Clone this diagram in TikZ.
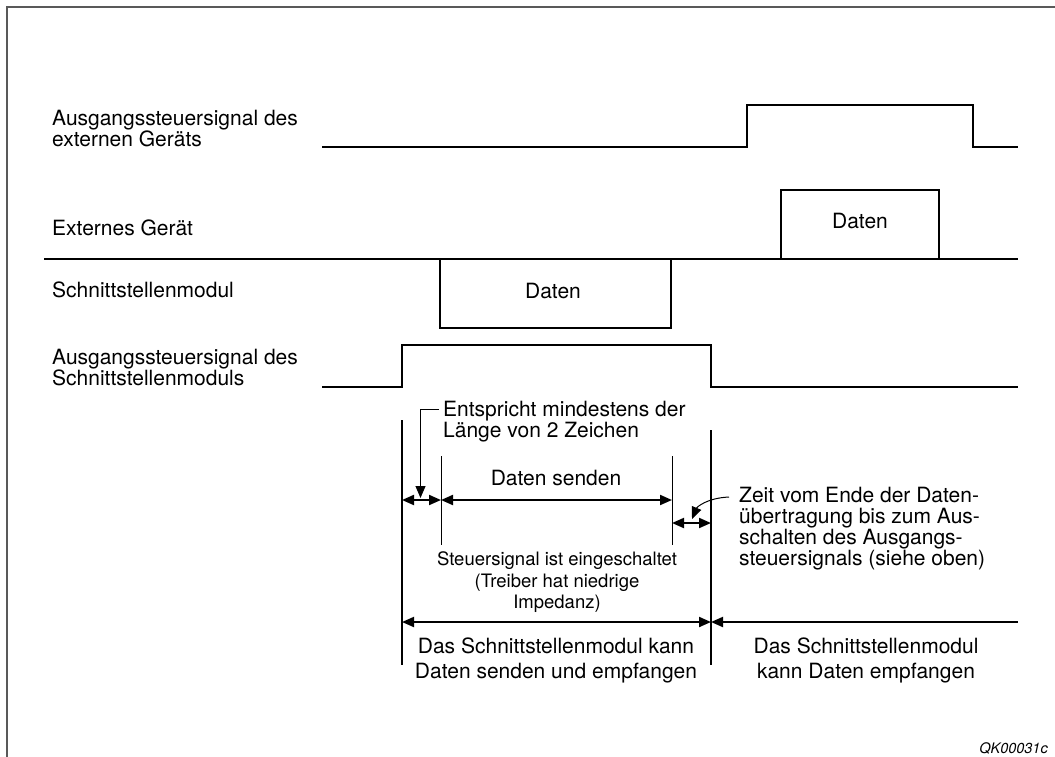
\documentclass[tikz,border=0pt]{standalone}
\usepackage{fontspec}
\setmainfont{TeX Gyre Heros}
\usetikzlibrary{arrows.meta}
\begin{document}
\begin{tikzpicture}[x=1pt,y=-1pt,
  sig/.style={line width=2pt, line join=miter},
  thinv/.style={line width=1pt},
  thickv/.style={line width=2pt},
  tip/.tip={Triangle[length=12pt,width=10pt]},
  dim/.style={line width=2pt, tip-tip},
  dimleft/.style={line width=2pt, tip-},
  lead/.style={line width=1pt, -tip},
  lbl/.style={inner sep=0pt, font=\fontsize{21}{21}\selectfont, align=left},
  clbl/.style={inner sep=0pt, font=\fontsize{21}{21}\selectfont, align=center},
  small/.style={inner sep=0pt, font=\fontsize{18.5}{21.5}\selectfont, align=center},
  big/.style={inner sep=0pt, font=\fontsize{21}{25}\selectfont, align=center},
]
\useasboundingbox (0,0) rectangle (1055,756);
% frame
\draw[line width=1.5pt, black!65] (7,760) -- (7,7) -- (1060,7);

% labels
\node[lbl, anchor=north west] (l1) at (52,110.4) {Ausgangssteuersignal des\\externen Geräts};
\node[lbl, anchor=base west] (l2) at (52,235.7) {Externes Gerät};
\node[lbl, anchor=base west] (l3) at (52,297.7) {Schnittstellenmodul};
\node[lbl, anchor=north west] (l4) at (52,349) {Ausgangssteuersignal des\\Schnittstellenmoduls};

% signal 1
\draw[sig] (322,147) -- (747,147) -- (747,104.5) -- (973,104.5) -- (973,147) -- (1018,147);
% shared data line with boxes
\draw[sig] (44,259) -- (1018,259);
\draw[sig] (440,259) -- (440,327.5) -- (671,327.5) -- (671,259);
\draw[sig] (781,259) -- (781,190) -- (939,190) -- (939,259);
\node[clbl, anchor=base] (d1) at (860,228.3) {Daten};
\node[clbl, anchor=base] (d2) at (553,298) {Daten};
% signal 4
\draw[sig] (322,387) -- (402,387) -- (402,345) -- (711,345) -- (711,387) -- (1018,387);

% vertical markers
\coordinate (vA) at (402,420);
\coordinate (vB) at (711,430);
\draw[thickv] (vA) -- (402,665);
\draw[thickv] (vB) -- (711,665);
\draw[thinv] (441,456) -- (441,545);
\draw[thinv] (672,456) -- (672,545);

% arrows
\coordinate (a1) at (402,500);
\coordinate (a2) at (441,500);
\coordinate (a3) at (672,500);
\coordinate (b1) at (672,523);
\coordinate (b2) at (711,523);
\coordinate (c1) at (402,622);
\coordinate (c2) at (711,622);
\coordinate (c3) at (1018,622);
\draw[dim] (a1) -- (a2);
\draw[dim] (a2) -- (a3);
\draw[dim] (b1) -- (b2);
\draw[dim] (c1) -- (c2);
\draw[dimleft] (c2) -- (c3);

% Entspricht
\node[lbl, anchor=north west] (ent) at (443,400.7) {Entspricht mindestens der\\Länge von 2 Zeichen};
\coordinate (e0) at (439,409);
\coordinate (e1) at (420.5,409);
\coordinate (e2) at (420.5,498);
\draw[lead] (e0) -- (e1) -- (e2);

\node[clbl, anchor=base] (ds) at (556,485) {Daten senden};

% Zeit
\node[lbl, anchor=north west] (zeit) at (739,486.7) {Zeit vom Ende der Daten-\\übertragung bis zum Aus-\\schalten des Ausgangs-\\steuersignals (siehe oben)};
\coordinate (z0) at (729,497);
\coordinate (z1) at (692,519);
\draw[lead] (z0) .. controls (707,498) and (697,507) .. (z1);

\node[small, anchor=north] (st) at (557,551.5) {Steuersignal ist eingeschaltet\\(Treiber hat niedrige\\Impedanz)};

\node[big, anchor=north] (bl) at (556,637.7) {Das Schnittstellenmodul kann\\Daten senden und empfangen};
\node[big, anchor=north] (br) at (866,637.7) {Das Schnittstellenmodul\\kann Daten empfangen};

\node[inner sep=0pt, anchor=base east, font=\fontsize{14.5}{15}\selectfont\itshape] (qk) at (1048,753) {QK00031c};
\end{tikzpicture}
\end{document}
